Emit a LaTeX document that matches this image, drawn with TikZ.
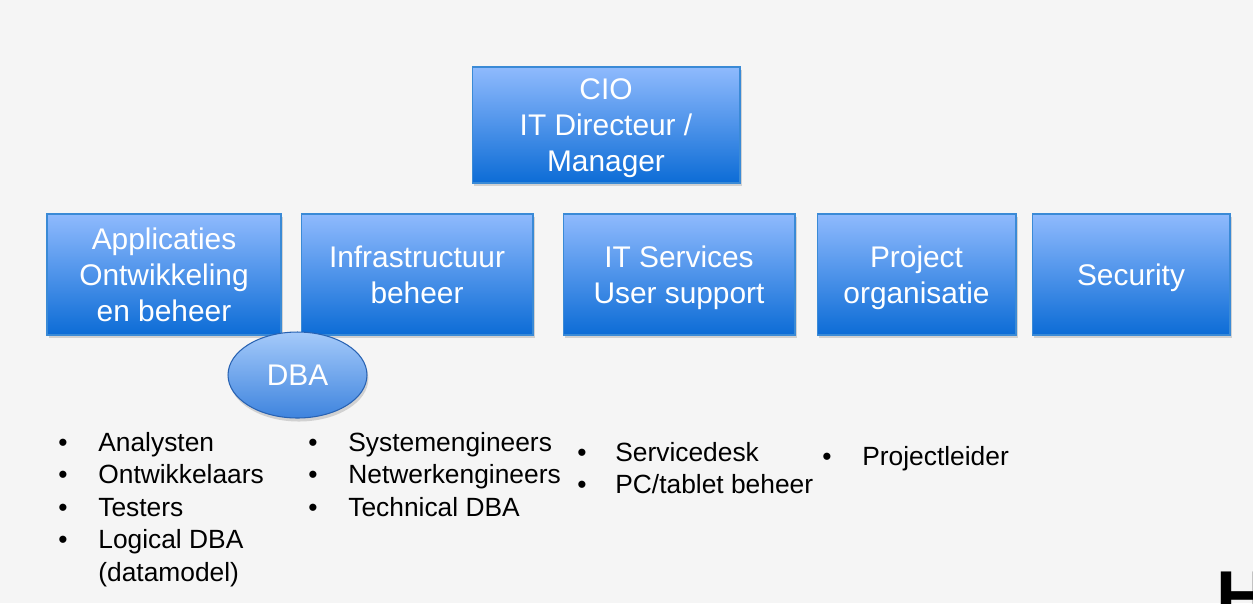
\documentclass[tikz,border=0pt]{standalone}
\usepackage{fontspec}
\setmainfont{Liberation Sans}
\usetikzlibrary{shapes.geometric, shadows}

\definecolor{bggray}{RGB}{245,245,245}
\definecolor{boxtop}{RGB}{143,186,253}
\definecolor{boxbot}{RGB}{12,108,214}
\definecolor{boxline}{RGB}{58,138,214}
\definecolor{dbatop}{RGB}{165,202,250}
\definecolor{dbabot}{RGB}{62,132,222}
\definecolor{dbaline}{RGB}{40,98,178}

\tikzset{
  unitbox/.style={draw=boxline, line width=0.6pt, top color=boxtop, bottom color=boxbot,
    text=white, align=center, inner sep=0pt, text depth=-1pt, font=\fontsize{17}{20.5}\selectfont,
    drop shadow={shadow xshift=1.2pt, shadow yshift=-1.5pt, opacity=0.3}},
  dbanode/.style={ellipse, draw=dbaline, line width=0.6pt, top color=dbatop, bottom color=dbabot,
    text=white, inner sep=0pt, font=\fontsize{17}{20.5}\selectfont,
    drop shadow={shadow xshift=0.8pt, shadow yshift=-2pt, opacity=0.3}},
  dot/.style={anchor=base, inner sep=0pt, font=\fontsize{15}{18.5}\selectfont},
  item/.style={anchor=base west, inner sep=0pt, font=\fontsize{15}{18.5}\selectfont}
}

\begin{document}
\begin{tikzpicture}[x=0.02cm, y=-0.02cm]
    \useasboundingbox (0,0) rectangle (1253,603);
    \clip (0,0) rectangle (1253,603);
    \fill[bggray] (0,0) rectangle (1253,603);

    % top
    \node[unitbox, minimum width=5.36cm, minimum height=2.32cm] (cio) at (606,125) {CIO\\IT Directeur /\\Manager};

    % departments
    \node[unitbox, minimum width=4.68cm, minimum height=2.42cm] (app) at (164,274.5) {Applicaties\\Ontwikkeling\\en beheer};
    \node[unitbox, minimum width=4.64cm, minimum height=2.42cm] (infra) at (417,274.5) {Infrastructuur\\beheer};
    \node[unitbox, minimum width=4.64cm, minimum height=2.42cm] (itserv) at (679,274.5) {IT Services\\User support};
    \node[unitbox, minimum width=3.98cm, minimum height=2.42cm] (proj) at (916.5,274.5) {Project\\organisatie};
    \node[unitbox, minimum width=3.96cm, minimum height=2.42cm] (sec) at (1131,274.5) {Security};

    \node[dbanode, minimum width=2.78cm, minimum height=1.72cm] (dba) at (297.5,375) {DBA};

    % roles
    \foreach \txt [count=\i] in {Analysten, Ontwikkelaars, Testers, Logical DBA} {
        \node[dot] (appdot\i) at (63, {418.5+32.5*\i}) {•};
        \node[item] (appitem\i) at (98, {418.5+32.5*\i}) {\txt};
    }
    \node[item] (appitem5) at (98,581) {(datamodel)};

    \foreach \txt [count=\i] in {Systemengineers, Netwerkengineers, Technical DBA} {
        \node[dot] (infradot\i) at (313, {418.5+32.5*\i}) {•};
        \node[item] (infraitem\i) at (348, {418.5+32.5*\i}) {\txt};
    }

    \foreach \txt [count=\i] in {Servicedesk, PC/tablet beheer} {
        \node[dot] (servdot\i) at (582, {430+31.5*\i}) {•};
        \node[item] (servitem\i) at (615, {430+31.5*\i}) {\txt};
    }

    \node[dot] (projdot1) at (827,465) {•};
    \node[item] (projitem1) at (862,465) {Projectleider};

    % logo corner
    \node[anchor=base west, inner sep=0pt, font=\fontsize{41}{41}\selectfont\bfseries] (logo) at (1216,621) {H};
\end{tikzpicture}
\end{document}
